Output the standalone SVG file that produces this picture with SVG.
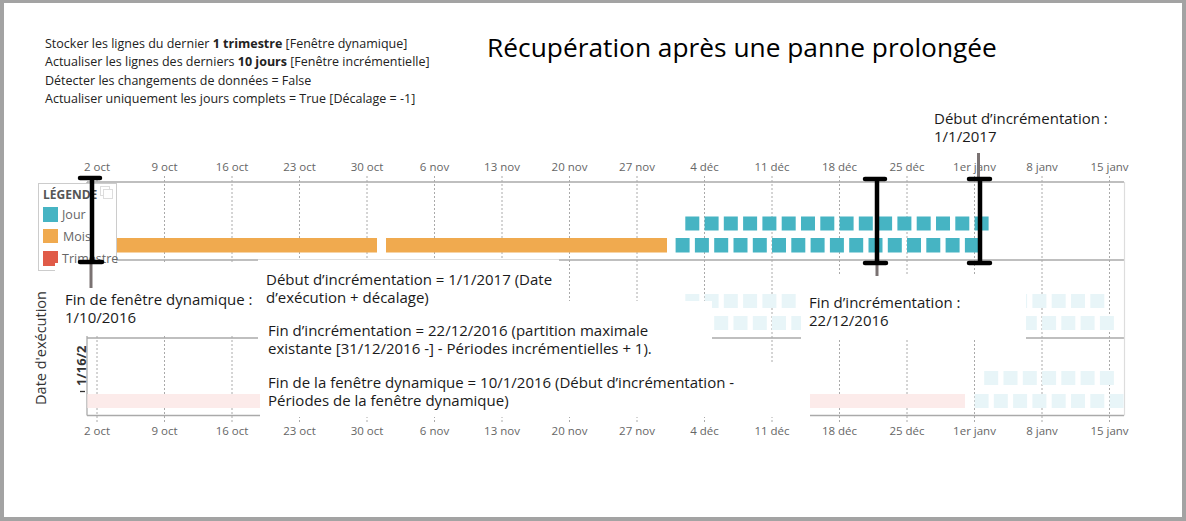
<svg xmlns="http://www.w3.org/2000/svg" width="1186" height="521" viewBox="0 0 1186 521">
<style>
text{font-family:"Open Sans","Noto Sans","Liberation Sans",sans-serif}
.ax{font-size:11.5px;fill:#666;text-anchor:middle}
.info{font-size:12.5px;fill:#222}
.box{font-size:15px;fill:#1a1a1a}
.grid{stroke:#aaa;stroke-width:1;stroke-dasharray:2,2}
.frame{stroke:#aaa;stroke-width:1.3;fill:none}
.d{fill:#46b4c3}
.g{fill:#e8f5f8}
.wb{fill:#fff}
.ibeam{stroke:#000;stroke-width:4.5;stroke-linecap:round;fill:none}
.pin{stroke:#7a7272;stroke-width:3}
.leg{font-size:12.5px;fill:#666}
</style>
<rect x="0" y="0" width="1186" height="521" fill="#a3a3a3"/>
<rect x="4" y="3" width="1178" height="514" fill="#fff"/>

<g id="header">
<text x="742" y="57" font-size="26.3" fill="#000" text-anchor="middle">Récupération après une panne prolongée</text>
<text class="info" x="45" y="48">Stocker les lignes du dernier <tspan font-weight="bold">1 trimestre</tspan> [Fenêtre dynamique]</text>
<text class="info" x="45" y="66">Actualiser les lignes des derniers <tspan font-weight="bold">10 jours</tspan> [Fenêtre incrémentielle]</text>
<text class="info" x="45" y="85">Détecter les changements de données = False</text>
<text class="info" x="45" y="103">Actualiser uniquement les jours complets = True [Décalage = -1]</text>
</g>

<g id="grid">
<line class="grid" x1="97" y1="176" x2="97" y2="423"/>
<line class="grid" x1="164.5" y1="176" x2="164.5" y2="423"/>
<line class="grid" x1="232" y1="176" x2="232" y2="423"/>
<line class="grid" x1="299.5" y1="176" x2="299.5" y2="423"/>
<line class="grid" x1="367" y1="176" x2="367" y2="423"/>
<line class="grid" x1="434.5" y1="176" x2="434.5" y2="423"/>
<line class="grid" x1="502" y1="176" x2="502" y2="423"/>
<line class="grid" x1="569.5" y1="176" x2="569.5" y2="423"/>
<line class="grid" x1="637" y1="176" x2="637" y2="423"/>
<line class="grid" x1="704.5" y1="176" x2="704.5" y2="423"/>
<line class="grid" x1="772" y1="176" x2="772" y2="423"/>
<line class="grid" x1="839.5" y1="176" x2="839.5" y2="423"/>
<line class="grid" x1="907" y1="176" x2="907" y2="423"/>
<line class="grid" x1="974.5" y1="176" x2="974.5" y2="423"/>
<line class="grid" x1="1042" y1="176" x2="1042" y2="423"/>
<line class="grid" x1="1109.5" y1="176" x2="1109.5" y2="423"/>
</g>

<g id="axis-top">
<text class="ax" x="97" y="171">2 oct</text>
<text class="ax" x="164.5" y="171">9 oct</text>
<text class="ax" x="232" y="171">16 oct</text>
<text class="ax" x="299.5" y="171">23 oct</text>
<text class="ax" x="367" y="171">30 oct</text>
<text class="ax" x="434.5" y="171">6 nov</text>
<text class="ax" x="502" y="171">13 nov</text>
<text class="ax" x="569.5" y="171">20 nov</text>
<text class="ax" x="637" y="171">27 nov</text>
<text class="ax" x="704.5" y="171">4 déc</text>
<text class="ax" x="772" y="171">11 déc</text>
<text class="ax" x="839.5" y="171">18 déc</text>
<text class="ax" x="907" y="171">25 déc</text>
<text class="ax" x="974.5" y="171">1er janv</text>
<text class="ax" x="1042" y="171">8 janv</text>
<text class="ax" x="1109.5" y="171">15 janv</text>
</g>

<g id="axis-bottom">
<text class="ax" x="97" y="435">2 oct</text>
<text class="ax" x="164.5" y="435">9 oct</text>
<text class="ax" x="232" y="435">16 oct</text>
<text class="ax" x="299.5" y="435">23 oct</text>
<text class="ax" x="367" y="435">30 oct</text>
<text class="ax" x="434.5" y="435">6 nov</text>
<text class="ax" x="502" y="435">13 nov</text>
<text class="ax" x="569.5" y="435">20 nov</text>
<text class="ax" x="637" y="435">27 nov</text>
<text class="ax" x="704.5" y="435">4 déc</text>
<text class="ax" x="772" y="435">11 déc</text>
<text class="ax" x="839.5" y="435">18 déc</text>
<text class="ax" x="907" y="435">25 déc</text>
<text class="ax" x="974.5" y="435">1er janv</text>
<text class="ax" x="1042" y="435">8 janv</text>
<text class="ax" x="1109.5" y="435">15 janv</text>
</g>

<g id="chart-frame">
<line class="frame" x1="87" y1="182" x2="1124" y2="182"/>
<line class="frame" x1="87" y1="260" x2="1124" y2="260"/>
<line class="frame" x1="87" y1="338" x2="1124" y2="338"/>
<line class="frame" x1="87" y1="415.5" x2="1124" y2="415.5"/>
<line class="frame" x1="87" y1="182" x2="87" y2="415.5"/>
<line x1="1124.5" y1="182" x2="1124.5" y2="415.5" stroke="#ddd" stroke-width="1.2"/>
</g>

<g id="row1">
<rect x="87.4" y="238" width="289.6" height="14.5" fill="#f0aa4f"/>
<rect x="386" y="238" width="281" height="14.5" fill="#f0aa4f"/>
<rect class="d" x="685.3" y="216.5" width="14" height="14"/>
<rect class="d" x="704.6" y="216.5" width="14" height="14"/>
<rect class="d" x="723.8" y="216.5" width="14" height="14"/>
<rect class="d" x="743.1" y="216.5" width="14" height="14"/>
<rect class="d" x="762.4" y="216.5" width="14" height="14"/>
<rect class="d" x="781.7" y="216.5" width="14" height="14"/>
<rect class="d" x="801" y="216.5" width="14" height="14"/>
<rect class="d" x="820.3" y="216.5" width="14" height="14"/>
<rect class="d" x="839.6" y="216.5" width="14" height="14"/>
<rect class="d" x="858.8" y="216.5" width="14" height="14"/>
<rect class="d" x="878.1" y="216.5" width="14" height="14"/>
<rect class="d" x="897.4" y="216.5" width="14" height="14"/>
<rect class="d" x="916.7" y="216.5" width="14" height="14"/>
<rect class="d" x="936" y="216.5" width="14" height="14"/>
<rect class="d" x="955.3" y="216.5" width="14" height="14"/>
<rect class="d" x="974.6" y="216.5" width="14" height="14"/>
<rect class="d" x="675.6" y="238" width="14" height="14.5"/>
<rect class="d" x="694.9" y="238" width="14" height="14.5"/>
<rect class="d" x="714.2" y="238" width="14" height="14.5"/>
<rect class="d" x="733.5" y="238" width="14" height="14.5"/>
<rect class="d" x="752.8" y="238" width="14" height="14.5"/>
<rect class="d" x="772" y="238" width="14" height="14.5"/>
<rect class="d" x="791.3" y="238" width="14" height="14.5"/>
<rect class="d" x="810.6" y="238" width="14" height="14.5"/>
<rect class="d" x="829.9" y="238" width="14" height="14.5"/>
<rect class="d" x="849.2" y="238" width="14" height="14.5"/>
<rect class="d" x="868.5" y="238" width="14" height="14.5"/>
<rect class="d" x="887.8" y="238" width="14" height="14.5"/>
<rect class="d" x="907" y="238" width="14" height="14.5"/>
<rect class="d" x="926.3" y="238" width="14" height="14.5"/>
<rect class="d" x="945.6" y="238" width="14" height="14.5"/>
<rect class="d" x="964.9" y="238" width="14" height="14.5"/>
</g>

<g id="row2">
<rect class="g" x="685.3" y="294" width="14" height="14"/>
<rect class="g" x="704.6" y="294" width="14" height="14"/>
<rect class="g" x="723.8" y="294" width="14" height="14"/>
<rect class="g" x="743.1" y="294" width="14" height="14"/>
<rect class="g" x="762.4" y="294" width="14" height="14"/>
<rect class="g" x="781.7" y="294" width="14" height="14"/>
<rect class="g" x="801" y="294" width="14" height="14"/>
<rect class="g" x="1013.1" y="294" width="14" height="14"/>
<rect class="g" x="1032.4" y="294" width="14" height="14"/>
<rect class="g" x="1051.7" y="294" width="14" height="14"/>
<rect class="g" x="1071" y="294" width="14" height="14"/>
<rect class="g" x="1090.3" y="294" width="14" height="14"/>
<rect class="g" x="714.2" y="316" width="14" height="14"/>
<rect class="g" x="733.5" y="316" width="14" height="14"/>
<rect class="g" x="752.8" y="316" width="14" height="14"/>
<rect class="g" x="772" y="316" width="14" height="14"/>
<rect class="g" x="791.3" y="316" width="14" height="14"/>
<rect class="g" x="1022.8" y="316" width="14" height="14"/>
<rect class="g" x="1042.1" y="316" width="14" height="14"/>
<rect class="g" x="1061.3" y="316" width="14" height="14"/>
<rect class="g" x="1080.6" y="316" width="14" height="14"/>
<rect class="g" x="1099.9" y="316" width="14" height="14"/>
</g>

<g id="row3">
<rect x="87.4" y="394" width="877.6" height="14" fill="#fcebea"/>
<rect class="g" x="984.2" y="371" width="14" height="14"/>
<rect class="g" x="1003.5" y="371" width="14" height="14"/>
<rect class="g" x="1022.8" y="371" width="14" height="14"/>
<rect class="g" x="1042.1" y="371" width="14" height="14"/>
<rect class="g" x="1061.3" y="371" width="14" height="14"/>
<rect class="g" x="1080.6" y="371" width="14" height="14"/>
<rect class="g" x="1099.9" y="371" width="14" height="14"/>
<rect class="g" x="974.6" y="394" width="14" height="14"/>
<rect class="g" x="993.8" y="394" width="14" height="14"/>
<rect class="g" x="1013.1" y="394" width="14" height="14"/>
<rect class="g" x="1032.4" y="394" width="14" height="14"/>
<rect class="g" x="1051.7" y="394" width="14" height="14"/>
<rect class="g" x="1071" y="394" width="14" height="14"/>
<rect class="g" x="1090.3" y="394" width="14" height="14"/>
<rect class="g" x="1109.6" y="394" width="14" height="14"/>
</g>

<g id="y-axis">
<text x="46" y="348" font-size="14.5" fill="#333" text-anchor="middle" transform="rotate(-90 46 348)">Date d'exécution</text>
<text x="86" y="386" font-size="13" font-weight="bold" fill="#333" text-anchor="start" transform="rotate(-90 86 386)">1/16/2</text>
<line x1="80" y1="391.5" x2="85" y2="391.5" stroke="#333" stroke-width="1.3"/>
</g>

<g id="legend">
<rect x="38.5" y="183.5" width="78" height="87" fill="#fff" stroke="#ccc"/>
<rect x="100.5" y="186.5" width="9" height="9" fill="#fff" stroke="#ddd"/>
<rect x="103.5" y="189.5" width="9" height="9" fill="#fff" stroke="#ddd"/>
<text x="43" y="199" font-size="12" font-weight="bold" fill="#555">LÉGENDE</text>
<rect x="43" y="207" width="15" height="15" fill="#46b4c3"/>
<text class="leg" x="62" y="219">Jour</text>
<rect x="43" y="229" width="15" height="14" fill="#f0aa4f"/>
<text class="leg" x="63" y="241">Mois</text>
<rect x="43" y="251" width="15" height="15" fill="#e05b48"/>
<text class="leg" x="62" y="263">Trimestre</text>
</g>

<g id="note-fin-fenetre">
<rect class="wb" x="55" y="263" width="203" height="73"/>
<text class="box" x="65" y="305">Fin de fenêtre dynamique :</text>
<text class="box" x="65" y="323">1/10/2016</text>
</g>

<g id="note-fin-formule">
<rect class="wb" x="258" y="301" width="454" height="61"/>
<text class="box" x="268" y="336">Fin d’incrémentation = 22/12/2016 (partition maximale</text>
<text class="box" x="268" y="354">existante [31/12/2016 -] - Périodes incrémentielles + 1).</text>
</g>

<g id="note-debut-formule">
<rect class="wb" x="258" y="259.5" width="301" height="42"/>
<text class="box" x="266" y="285">Début d’incrémentation = 1/1/2017 (Date</text>
<text class="box" x="266" y="303">d’exécution + décalage)</text>
</g>

<g id="note-fenetre-formule">
<rect class="wb" x="260" y="362" width="550" height="55"/>
<text class="box" x="268" y="388">Fin de la fenêtre dynamique = 10/1/2016 (Début d’incrémentation -</text>
<text class="box" x="268" y="406">Périodes de la fenêtre dynamique)</text>
</g>

<g id="note-fin-increment">
<rect class="wb" x="801" y="276" width="225" height="64"/>
<text class="box" x="809" y="308">Fin d’incrémentation :</text>
<text class="box" x="809" y="326">22/12/2016</text>
</g>

<g id="note-debut-increment">
<text class="box" x="934" y="124">Début d’incrémentation :</text>
<text class="box" x="934" y="142">1/1/2017</text>
</g>

<g id="connectors">
<line class="pin" x1="91" y1="262" x2="91" y2="288"/>
<line class="pin" x1="877" y1="263" x2="877" y2="276"/>
<line class="pin" x1="978.5" y1="153" x2="978.5" y2="179"/>
<path class="ibeam" d="M92 178V262M80 178H100M80 262H102"/>
<path class="ibeam" d="M877 179V263M865 179H885M865 263H886"/>
<path class="ibeam" d="M980 179V263M969 179H990M969 263H990"/>
</g>
</svg>
